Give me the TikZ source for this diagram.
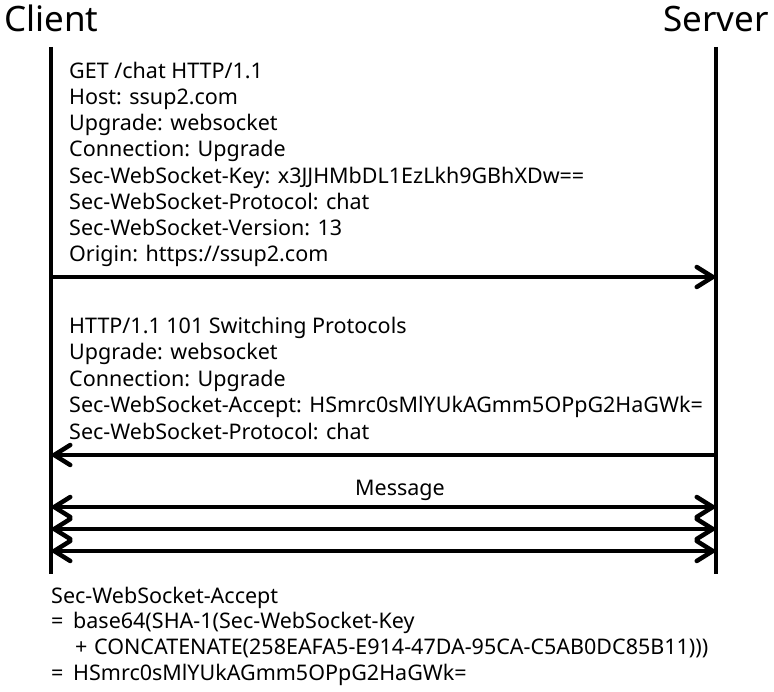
\documentclass[tikz,border=0pt]{standalone}
\usepackage{fontspec}
\setmainfont{Noto Sans}
\usetikzlibrary{arrows.meta}
\begin{document}
\begin{tikzpicture}[x=1pt,y=-1pt,
  lifeline/.style={line width=4pt},
  msg/.style={line width=4.5pt,-{Straight Barb[length=16pt,width=20pt,round]}},
  bimsg/.style={line width=4.5pt,{Straight Barb[length=16pt,width=20pt,round]}-{Straight Barb[length=16pt,width=20pt,round]}},
  txt/.style={anchor=base west,inner sep=0pt,font=\fontsize{21.5pt}{26pt}\selectfont},
  title/.style={inner sep=0pt,font=\fontsize{35pt}{40pt}\selectfont}]
\useasboundingbox (0,0) rectangle (774,692);
\node[title,anchor=base west] (client) at (4,32) {Client};
\node[title,anchor=base east] (server) at (769,32) {Server};
\coordinate (ct) at (51,47);
\coordinate (cb) at (51,574);
\coordinate (st) at (716,47);
\coordinate (sb) at (716,574);
\draw[lifeline] (ct) -- (cb);
\draw[lifeline] (st) -- (sb);
% request
\node[txt] (r1) at (69,79) {GET /chat HTTP/1.1};
\node[txt] (r2) at (69,105) {Host: ssup2.com};
\node[txt] (r3) at (69,131) {Upgrade: websocket};
\node[txt] (r4) at (69,157) {Connection: Upgrade};
\node[txt] (r5) at (69,184) {Sec-WebSocket-Key: x3JJHMbDL1EzLkh9GBhXDw==};
\node[txt] (r6) at (69,210) {Sec-WebSocket-Protocol: chat};
\node[txt] (r7) at (69,236) {Sec-WebSocket-Version: 13};
\node[txt] (r8) at (69,262) {Origin: https://ssup2.com};
\coordinate (a1s) at (51,277);
\coordinate (a1e) at (715,277);
\draw[msg] (a1s) -- (a1e);
% response
\node[txt] (p1) at (69,334) {HTTP/1.1 101 Switching Protocols};
\node[txt] (p2) at (69,360) {Upgrade: websocket};
\node[txt] (p3) at (69,387) {Connection: Upgrade};
\node[txt] (p4) at (69,413) {Sec-WebSocket-Accept: HSmrc0sMlYUkAGmm5OPpG2HaGWk=};
\node[txt] (p5) at (69,439) {Sec-WebSocket-Protocol: chat};
\coordinate (a2s) at (716,455);
\coordinate (a2e) at (52,455);
\draw[msg] (a2s) -- (a2e);
% messages
\node[txt,anchor=base] (m) at (400,496) {Message};
\foreach \y/\n in {507/a, 529/b, 551/c}{
  \coordinate (l\n) at (52,\y);
  \coordinate (r\n) at (715,\y);
  \draw[bimsg] (l\n) -- (r\n);
}
% formula
\node[txt] (f1) at (51,603) {Sec-WebSocket-Accept};
\node[txt] (f2) at (51,628) {\makebox[22pt][l]{=}base64(SHA-1(Sec-WebSocket-Key};
\node[txt] (f3) at (75,654) {\makebox[19pt][l]{+}CONCATENATE(258EAFA5-E914-47DA-95CA-C5AB0DC85B11)))};
\node[txt] (f4) at (51,680) {\makebox[22pt][l]{=}HSmrc0sMlYUkAGmm5OPpG2HaGWk=};
\end{tikzpicture}
\end{document}
